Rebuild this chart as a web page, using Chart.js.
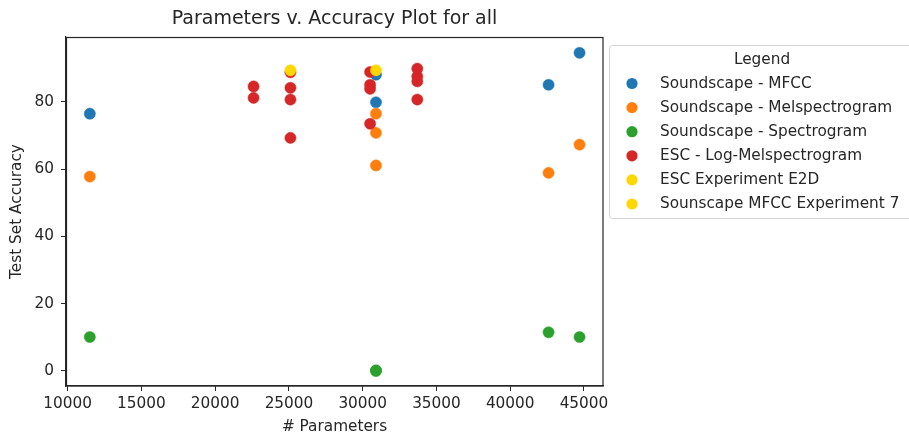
<!DOCTYPE html>
<html>
<head>
<meta charset="utf-8">
<script src="https://cdn.jsdelivr.net/npm/chart.js@4/dist/chart.umd.min.js"></script>
<style>
  html, body { margin: 0; padding: 0; background: #fff; }
  #wrap { width: 909px; height: 438px; position: relative; }
</style>
</head>
<body>
<div id="wrap"><canvas id="c" width="909" height="438"></canvas></div>
<script>
// Parameter counts and test-set accuracies per experiment family
const mfccX = [11500, 30900, 30900, 42600, 44700];
const mfccY = [76.5, 88.1, 79.9, 85.1, 94.6];

const melX = [11500, 30900, 30900, 30900, 42600, 44700];
const melY = [57.8, 76.5, 70.8, 61.1, 58.9, 67.3];

const specX = [11500, 30900, 30900, 42600, 44700];
const specY = [10.1, 0.0, 0.2, 11.5, 10.1];

const escX = [22600, 22600, 25100, 25100, 25100, 25100, 30500, 30500, 30500, 30500, 33700, 33700, 33700, 33700];
const escY = [84.6, 81.2, 88.8, 84.2, 80.7, 69.3, 88.9, 85.1, 83.9, 73.5, 89.9, 87.6, 86.1, 80.7];

const e2dX = [25100];
const e2dY = [89.4];

const exp7X = [30900];
const exp7Y = [89.4];

const seriesLabels = [
  'Soundscape - MFCC',
  'Soundscape - Melspectrogram',
  'Soundscape - Spectrogram',
  'ESC - Log-Melspectrogram',
  'ESC Experiment E2D',
  'Sounscape MFCC Experiment 7'
];
const seriesColors = ['#1f77b4', '#ff7f0e', '#2ca02c', '#d62728', '#ffd700', '#ffd700'];

const xTicks = [10000, 15000, 20000, 25000, 30000, 35000, 40000, 45000];
const yTicks = [0, 20, 40, 60, 80];

const FONT = 'DejaVu Sans';
const TXT = '#262626';

const toPoints = (xs, ys) => xs.map((x, i) => ({ x: x, y: ys[i] }));
const seriesData = [
  toPoints(mfccX, mfccY),
  toPoints(melX, melY),
  toPoints(specX, specY),
  toPoints(escX, escY),
  toPoints(e2dX, e2dY),
  toPoints(exp7X, exp7Y)
];

const datasets = seriesData.map((d, i) => ({
  label: seriesLabels[i],
  data: d,
  backgroundColor: seriesColors[i],
  borderColor: seriesColors[i],
  borderWidth: 0.5,
  pointRadius: 5.6,
  pointHoverRadius: 5.6,
  // later series are painted on top
  order: seriesData.length - 1 - i
}));

// full frame around the plotting area
const framePlugin = {
  id: 'frame',
  afterDatasetsDraw(chart) {
    const a = chart.chartArea;
    const ctx = chart.ctx;
    ctx.save();
    ctx.strokeStyle = '#262626';
    ctx.lineWidth = 1.2;
    ctx.strokeRect(Math.round(a.left) + 0.5, Math.round(a.top) + 0.5,
                   Math.round(a.right - a.left) - 0.5, Math.round(a.bottom - a.top) - 0.5);
    ctx.restore();
  }
};

// boxed legend with title, placed to the right of the axes
const boxLegend = {
  id: 'boxLegend',
  afterDraw(chart) {
    const ctx = chart.ctx;
    const bx = 609.5, by = 45.5, bw = 306, bh = 173;
    ctx.save();
    ctx.fillStyle = 'rgba(255,255,255,0.8)';
    ctx.strokeStyle = '#d4d4d4';
    ctx.lineWidth = 1;
    ctx.beginPath();
    ctx.roundRect(bx, by, bw, bh, 3);
    ctx.fill();
    ctx.stroke();

    ctx.font = '15.3px "' + FONT + '"';
    ctx.fillStyle = TXT;
    ctx.textBaseline = 'middle';
    ctx.textAlign = 'center';
    ctx.fillText('Legend', 762, 60);

    ctx.textAlign = 'left';
    chart.data.datasets.forEach((ds, i) => {
      const y = 83.5 + i * 24.1;
      ctx.fillStyle = ds.backgroundColor;
      ctx.beginPath();
      ctx.arc(632, y, 5.6, 0, Math.PI * 2);
      ctx.fill();
      ctx.fillStyle = TXT;
      ctx.fillText(ds.label, 660, y + 0.5);
    });
    ctx.restore();
  }
};

new Chart(document.getElementById('c'), {
  type: 'scatter',
  data: { datasets: datasets },
  options: {
    responsive: false,
    animation: false,
    events: [],
    layout: { padding: { left: 0, right: 306, top: 0, bottom: 0 } },
    plugins: {
      legend: { display: false },
      tooltip: { enabled: false },
      title: {
        display: true,
        text: 'Parameters v. Accuracy Plot for all',
        fullSize: false,
        color: TXT,
        font: { family: FONT, size: 19, weight: 'normal' },
        padding: { top: 7.5, bottom: 6.7 }
      }
    },
    scales: {
      x: {
        type: 'linear',
        min: 9885,
        max: 46290,
        afterBuildTicks: s => { s.ticks = xTicks.map(v => ({ value: v })); },
        afterFit: s => { s.height = 52; },
        grid: { drawOnChartArea: false, drawTicks: true, tickLength: 5, color: '#262626', lineWidth: 1 },
        border: { display: true, color: '#262626', width: 1.2 },
        ticks: {
          color: TXT,
          padding: 4,
          maxRotation: 0,
          autoSkip: false,
          font: { family: FONT, size: 15.3 },
          callback: v => String(v)
        },
        title: {
          display: true,
          text: '# Parameters',
          color: TXT,
          font: { family: FONT, size: 15.3 },
          padding: { top: 0, bottom: 2 }
        }
      },
      y: {
        type: 'linear',
        min: -4.47,
        max: 99.3,
        afterBuildTicks: s => { s.ticks = yTicks.map(v => ({ value: v })); },
        afterFit: s => { s.width = 66; },
        grid: { drawOnChartArea: false, drawTicks: true, tickLength: 5, color: '#262626', lineWidth: 1 },
        border: { display: true, color: '#262626', width: 1.2 },
        ticks: {
          color: TXT,
          padding: 7,
          autoSkip: false,
          font: { family: FONT, size: 15.3 },
          callback: v => String(v)
        },
        title: {
          display: true,
          text: 'Test Set Accuracy',
          color: TXT,
          font: { family: FONT, size: 15.3 },
          padding: { top: 8, bottom: 0 }
        }
      }
    }
  },
  plugins: [framePlugin, boxLegend]
});
</script>
</body>
</html>
